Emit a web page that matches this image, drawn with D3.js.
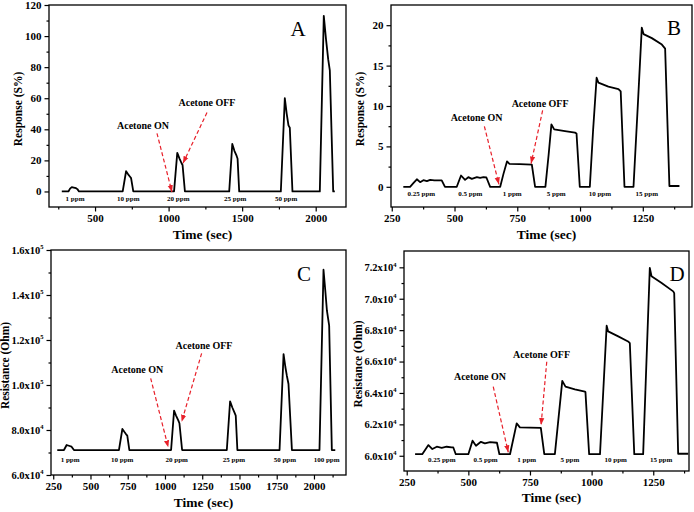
<!DOCTYPE html>
<html>
<head>
<meta charset="utf-8">
<script src="https://cdn.jsdelivr.net/npm/d3@7"></script>
<style>
  body { margin: 0; background: #fff; }
  svg text { font-family: "Liberation Serif", "Times New Roman", serif; font-weight: bold; }
  svg text.letter { font-weight: normal; }
</style>
</head>
<body>
<div id="viz"></div>
<script>
// [time (sec), value]
const seriesA = [
  [274,0],[319,0],[330,1.8],[342,2.8],[355,2.5],[371,2.1],[380,1.5],[391,0],
  [688,0],[711,13],[725,11],[738,9.5],[745,8.6],[760,0],
  [1037,0],[1059,24.8],[1075,21],[1089,18],[1095,17],[1111,0],
  [1412,0],[1433,30.6],[1448,26],[1462,23],[1469,21],[1480,0],
  [1763,0],[1790,60],[1803,50],[1815,42.5],[1824,41],[1842,0],
  [2028,0],[2055,113],[2070,98],[2085,85],[2096,78],[2119,0],[2130,0]
];
const seriesB = [
  [296,0],[323,0],[336,0.45],[350,0.93],[363,0.57],[376,0.82],[390,0.7],[403,0.86],[420,0.8],[449,0.8],[462,0],
  [509,0],[518,0.75],[526,1.4],[542,0.86],[555,1.19],[569,0.98],[589,1.19],[602,1.1],[615,1.19],[627,1.15],[642,0],
  [682,0],[695,1.6],[709,3.14],[719,2.84],[760,2.8],[808,2.75],[821,0],
  [862,0],[875,4],[886,7.73],[897,7.1],[940,6.9],[980,6.7],[986,6.6],[999,0],
  [1039,0],[1052,7],[1066,13.5],[1073,12.9],[1113,12.4],[1153,12.1],[1162,11.8],[1177,0],
  [1213,0],[1230,10],[1246,19.7],[1253,18.9],[1286,18.4],[1326,17.6],[1339,17.1],[1356,0.1],[1396,0.1]
];
const seriesC = [
  [277,71100],[322,71100],[340,73330],[355,73000],[373,72600],[389,71100],
  [691,71100],[714,80440],[727,79200],[738,78200],[747,77500],[761,71100],
  [1041,71100],[1061,88580],[1075,86300],[1090,84140],[1097,83000],[1115,71100],
  [1415,71100],[1437,92730],[1452,90000],[1466,87840],[1475,86360],[1486,71100],
  [1769,71100],[1796,113760],[1808,108000],[1818,104130],[1829,100430],[1852,71100],
  [2037,71100],[2064,151230],[2076,142000],[2087,133010],[2102,126350],[2120,71100],[2143,71100]
];
const seriesD = [
  [284,60100],[313,60100],[338,60680],[354,60430],[372,60575],[392,60510],[412,60575],[432,60530],[439,60530],[449,60100],
  [500,60100],[517,60960],[531,60640],[551,60890],[567,60790],[588,60870],[616,60830],[626,60100],
  [669,60100],[696,62060],[709,61810],[750,61790],[794,61770],[808,60100],
  [851,60100],[881,64770],[894,64400],[932,64230],[973,64090],[975,64050],[990,60100],
  [1034,60100],[1061,68280],[1067,67920],[1108,67600],[1148,67280],[1155,67170],[1173,60100],
  [1209,60100],[1236,71960],[1243,71430],[1284,71000],[1331,70470],[1335,70360],[1351,60130],[1392,60130]
];

// concentration labels and the time where each one sits
const concA = ["1 ppm", "10 ppm", "20 ppm", "25 ppm", "50 ppm"];
const concTimeA = [364, 726, 1066, 1453, 1799];
const concB = ["0.25 ppm", "0.5 ppm", "1 ppm", "5 ppm", "10 ppm", "15 ppm"];
const concTimeB = [368, 563, 730, 905, 1079, 1266];
const concC = ["1 ppm", "10 ppm", "20 ppm", "25 ppm", "50 ppm", "100 ppm"];
const concTimeC = [363, 713, 1079, 1463, 1805, 2085];
const concD = ["0.25 ppm", "0.5 ppm", "1 ppm", "5 ppm", "10 ppm", "15 ppm"];
const concTimeD = [392, 570, 737, 912, 1098, 1282];

// tick values
const xTicksA = [500, 1000, 1500, 2000];
const xTicksB = [250, 500, 750, 1000, 1250];
const xTicksC = [250, 500, 750, 1000, 1250, 1500, 1750, 2000];
const xTicksD = [250, 500, 750, 1000, 1250];
const yTicksA = [0, 20, 40, 60, 80, 100, 120];
const yTicksB = [0, 5, 10, 15, 20];
const yTicksC = [60000, 80000, 100000, 120000, 140000, 160000];
const yTicksD = [60000, 62000, 64000, 66000, 68000, 70000, 72000];

const W = 694, H = 512;
const svg = d3.select("#viz").append("svg").attr("width", W).attr("height", H);

svg.append("defs").append("marker")
  .attr("id", "arr")
  .attr("viewBox", "0 0 8 6")
  .attr("refX", 8).attr("refY", 3)
  .attr("markerWidth", 7).attr("markerHeight", 6)
  .attr("markerUnits", "userSpaceOnUse")
  .attr("orient", "auto")
  .append("path").attr("d", "M0,0L8,3L0,6Z").attr("fill", "#e8202a");

function sciMant(v) {
  const e = Math.floor(Math.log10(v));
  return (v / Math.pow(10, e)).toFixed(1) + "x10";
}
function sciExp(v) {
  return String(Math.floor(Math.log10(v)));
}

const panels = [
  {
    letter: "A", data: seriesA, l: 49, r: 346, t: 5, b: 207,
    xd: [187, 2206], yd: [-10, 120],
    xt: xTicksA, xm: [250, 750, 1250, 1750], yt: yTicksA, ym: d3.range(10, 120, 20),
    sci: false, ytitle: "Response (S%)", ytx: 18, xty: 239,
    conc: concA, concT: concTimeA, concOff: 8,
    on: { text: [826, 42.5], from: [921, 37.4], to: [1023, -0.4] },
    off: { text: [1261, 57.2], from: [1261, 50.8], to: [1098, 18.2] },
    lx: 298, ly: 36
  },
  {
    letter: "B", data: seriesB, l: 391, r: 692, t: 5, b: 207,
    xd: [247, 1446], yd: [-2.5, 22.5],
    xt: xTicksB, xm: [375, 625, 875, 1125, 1375], yt: yTicksB, ym: [2.5, 7.5, 12.5, 17.5],
    sci: false, ytitle: "Response (S%)", ytx: 360, xty: 239,
    conc: concB, concT: concTimeB, concOff: 13,
    on: { text: [588, 8.6], from: [619, 7.48], to: [677, 0.3] },
    off: { text: [841, 10.35], from: [851, 9.45], to: [805, 2.88] },
    lx: 674, ly: 35
  },
  {
    letter: "C", data: seriesC, l: 51, r: 346, t: 250, b: 475,
    xd: [235, 2215], yd: [60000, 160000],
    xt: xTicksC, xm: [375, 625, 875, 1125, 1375, 1625, 1875, 2125], yt: yTicksC, ym: d3.range(70000, 160000, 20000),
    sci: true, ytitle: "Resistance (Ohm)", ytx: 5, xty: 507,
    conc: concC, concT: concTimeC, concOff: 15,
    on: { text: [814, 107100], from: [904, 102970], to: [1022, 72310] },
    off: { text: [1262, 117460], from: [1246, 114080], to: [1112, 83690] },
    lx: 304, ly: 281
  },
  {
    letter: "D", data: seriesD, l: 404, r: 689, t: 251, b: 471,
    xd: [239, 1395], yd: [59030, 73040],
    xt: xTicksD, xm: [375, 625, 875, 1125, 1375], yt: yTicksD, ym: d3.range(61000, 73000, 2000),
    sci: true, ytitle: "Resistance (Ohm)", ytx: 358, xty: 502,
    conc: concD, concT: concTimeD, concOff: 11,
    on: { text: [547, 65034], from: [601, 64397], to: [662, 60219] },
    off: { text: [797, 66460], from: [818, 65990], to: [795, 61958] },
    lx: 677, ly: 281
  }
];

function styleAxis(sel, size) {
  sel.select(".domain").remove();
  sel.selectAll(".tick line").attr("stroke", "#000").attr("stroke-width", 1.2);
  sel.selectAll(".tick text").attr("fill", "#000").attr("font-size", size || 11)
    .attr("font-family", "Liberation Serif, serif").attr("font-weight", "bold");
}

function drawPanel(p) {
  const x = d3.scaleLinear().domain(p.xd).range([p.l, p.r]);
  const y = d3.scaleLinear().domain(p.yd).range([p.b, p.t]);
  const g = svg.append("g");

  // minor ticks
  g.append("g").attr("transform", `translate(0,${p.b})`)
    .call(d3.axisBottom(x).tickValues(p.xm.filter(v => v > p.xd[0] && v < p.xd[1])).tickSize(2.5).tickSizeOuter(0).tickFormat(""))
    .call(styleAxis);
  g.append("g").attr("transform", `translate(${p.l},0)`)
    .call(d3.axisLeft(y).tickValues(p.ym).tickSize(2.5).tickSizeOuter(0).tickFormat(""))
    .call(styleAxis);

  // major ticks
  g.append("g").attr("transform", `translate(0,${p.b})`)
    .call(d3.axisBottom(x).tickValues(p.xt).tickSize(4.5).tickSizeOuter(0).tickPadding(3).tickFormat(d3.format("d")))
    .call(styleAxis);

  const ya = g.append("g").attr("transform", `translate(${p.l},0)`)
    .call(d3.axisLeft(y).tickValues(p.yt).tickSize(4.5).tickSizeOuter(0).tickPadding(3)
      .tickFormat(p.sci ? sciMant : d3.format("d")))
    .call(styleAxis, p.sci ? 10.5 : 11);
  if (p.sci) {
    ya.selectAll(".tick text").each(function(d) {
      d3.select(this).append("tspan").attr("dy", -4.5).attr("font-size", 6.5).text(sciExp(d));
    });
  }

  // frame
  g.append("rect")
    .attr("x", p.l).attr("y", p.t)
    .attr("width", p.r - p.l).attr("height", p.b - p.t)
    .attr("fill", "none").attr("stroke", "#000").attr("stroke-width", 1.3);

  // data line
  const line = d3.line().x(d => x(d[0])).y(d => y(d[1]));
  g.append("path").datum(p.data)
    .attr("d", line)
    .attr("fill", "none").attr("stroke", "#000")
    .attr("stroke-width", 1.8).attr("stroke-linejoin", "round");

  // concentration labels
  g.selectAll("text.conc").data(p.conc).enter()
    .append("text").attr("class", "conc")
    .attr("x", (d, i) => x(p.concT[i]))
    .attr("y", p.b - p.concOff)
    .attr("dy", "0.35em")
    .attr("text-anchor", "middle")
    .attr("font-size", 7)
    .text(d => d);

  // annotations
  [["Acetone ON", p.on], ["Acetone OFF", p.off]].forEach(([label, a]) => {
    g.append("text")
      .attr("x", x(a.text[0])).attr("y", y(a.text[1]))
      .attr("dy", "0.35em").attr("text-anchor", "middle")
      .attr("font-size", 10).text(label);
    g.append("line")
      .attr("x1", x(a.from[0])).attr("y1", y(a.from[1]))
      .attr("x2", x(a.to[0])).attr("y2", y(a.to[1]))
      .attr("stroke", "#e8202a").attr("stroke-width", 1.2)
      .attr("stroke-dasharray", "4,2.5")
      .attr("marker-end", "url(#arr)");
  });

  // axis titles
  g.append("text")
    .attr("x", (p.l + p.r) / 2 + 5).attr("y", p.xty)
    .attr("text-anchor", "middle").attr("font-size", 13.5)
    .text("Time (sec)");
  g.append("text")
    .attr("transform", `translate(${p.ytx},${(p.t + p.b) / 2 + 3}) rotate(-90)`)
    .attr("dy", "0.35em").attr("text-anchor", "middle").attr("font-size", 11.5)
    .text(p.ytitle);

  // panel letter
  g.append("text").attr("class", "letter")
    .attr("x", p.lx).attr("y", p.ly)
    .attr("text-anchor", "middle")
    .attr("font-size", 21)
    .text(p.letter);
}

panels.forEach(drawPanel);
</script>
</body>
</html>
